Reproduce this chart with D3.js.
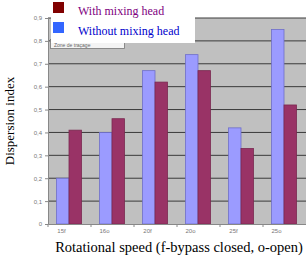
<!DOCTYPE html>
<html>
<head>
<meta charset="utf-8">
<script src="https://cdn.jsdelivr.net/npm/d3@7"></script>
<style>
  body { margin: 0; background: #fff; }
  svg { display: block; }
  .serif { font-family: "Liberation Serif", "Times New Roman", "DejaVu Serif", serif; }
</style>
</head>
<body>
<svg id="chart" width="306" height="261"></svg>
<script>
const categories = ["15f", "16o", "20f", "20o", "25f", "25o"];
const withoutHead = [0.20, 0.40, 0.67, 0.74, 0.42, 0.85];
const withHead = [0.41, 0.46, 0.62, 0.67, 0.33, 0.52];
const yTicks = [0, 0.1, 0.2, 0.3, 0.4, 0.5, 0.6, 0.7, 0.8, 0.9];
const seriesNames = ["With mixing head", "Without mixing head"];

const svg = d3.select("#chart");
const plot = { left: 48, right: 306, top: 18, bottom: 224 };

const x = d3.scaleBand().domain(categories).range([plot.left, plot.right]);
const y = d3.scaleLinear().domain([0, 0.9]).range([plot.bottom, plot.top]);
const barW = 12.5;

// plot background
svg.append("rect")
  .attr("x", plot.left).attr("y", plot.top)
  .attr("width", plot.right - plot.left).attr("height", plot.bottom - plot.top)
  .attr("fill", "#c0c0c0");

// gridlines
svg.append("g").selectAll("line")
  .data(yTicks.filter(d => d > 0))
  .join("line")
  .attr("x1", plot.left).attr("x2", plot.right)
  .attr("y1", d => y(d)).attr("y2", d => y(d))
  .attr("stroke", "#3a3a3a").attr("stroke-width", 1);

// bars
const groups = svg.append("g").selectAll("g")
  .data(categories)
  .join("g");

groups.append("rect")
  .attr("x", (d, i) => x(d) + x.bandwidth() / 2 - barW - 0.5)
  .attr("y", (d, i) => y(withoutHead[i]))
  .attr("width", barW)
  .attr("height", (d, i) => y(0) - y(withoutHead[i]))
  .attr("fill", "#9b9bff")
  .attr("stroke", "#6f6fc8").attr("stroke-width", 0.8);

groups.append("rect")
  .attr("x", (d, i) => x(d) + x.bandwidth() / 2 - 0.5)
  .attr("y", (d, i) => y(withHead[i]))
  .attr("width", barW)
  .attr("height", (d, i) => y(0) - y(withHead[i]))
  .attr("fill", "#993366")
  .attr("stroke", "#7a2850").attr("stroke-width", 0.8);

// axes
const yAxis = svg.append("g")
  .attr("transform", `translate(${plot.left},0)`)
  .call(d3.axisLeft(y).tickValues(yTicks).tickSize(3)
    .tickFormat(d => d === 0 ? "0" : d3.format(".1f")(d).replace(".", ",")));
yAxis.select(".domain").attr("stroke", "#888");
yAxis.selectAll(".tick line").attr("stroke", "#888");
yAxis.selectAll("text").attr("fill", "#777").attr("font-size", 6)
  .attr("font-family", "Liberation Sans, sans-serif");

const xAxis = svg.append("g")
  .attr("transform", `translate(0,${plot.bottom})`)
  .call(d3.axisBottom(x).tickSize(0));
xAxis.select(".domain").attr("stroke", "#888");
xAxis.selectAll("text").attr("fill", "#777").attr("font-size", 6)
  .attr("font-family", "Liberation Sans, sans-serif")
  .attr("dx", -8).attr("dy", 6);
// ticks between categories
svg.append("g").selectAll("line")
  .data(categories)
  .join("line")
  .attr("x1", d => x(d)).attr("x2", d => x(d))
  .attr("y1", plot.bottom).attr("y2", plot.bottom + 3)
  .attr("stroke", "#888");

// faded plot-area tooltip
svg.append("rect")
  .attr("x", 50.5).attr("y", 39.5).attr("width", 74).attr("height", 9)
  .attr("fill", "#f4f4f4").attr("stroke", "#777").attr("stroke-width", 0.8);
svg.append("text")
  .attr("x", 54).attr("y", 46.5)
  .attr("font-size", 5).attr("fill", "#666")
  .attr("font-family", "Liberation Sans, sans-serif")
  .text("Zone de traçage");

// legend
svg.append("rect")
  .attr("x", 51).attr("y", 0).attr("width", 144).attr("height", 43)
  .attr("fill", "#fff");
const legendColors = ["#800000", "#3366ff"];
const legendText = ["#800080", "#0000cc"];
const legend = svg.append("g").selectAll("g")
  .data(seriesNames)
  .join("g")
  .attr("transform", (d, i) => `translate(53,${2 + i * 20})`);
legend.append("rect")
  .attr("width", 11).attr("height", 11)
  .attr("fill", (d, i) => legendColors[i]);
legend.append("text")
  .attr("class", "serif")
  .attr("x", 25).attr("y", 13)
  .attr("font-size", 12)
  .attr("fill", (d, i) => legendText[i])
  .text(d => d);

// axis titles
svg.append("text")
  .attr("class", "serif")
  .attr("transform", "translate(14,121) rotate(-90)")
  .attr("text-anchor", "middle")
  .attr("font-size", 13)
  .text("Dispersion index");

svg.append("text")
  .attr("class", "serif")
  .attr("x", 179).attr("y", 252)
  .attr("text-anchor", "middle")
  .attr("font-size", 14.5)
  .text("Rotational speed (f-bypass closed, o-open)");
</script>
</body>
</html>
